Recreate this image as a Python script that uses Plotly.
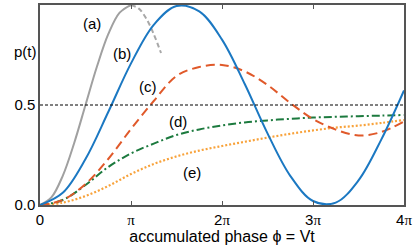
import plotly.graph_objects as go

# phase in units of pi
phi_a = [0, 0.125, 0.25, 0.375, 0.5, 0.625, 0.75, 0.875, 1.0]
p_a = [0, 0.038, 0.146, 0.309, 0.5, 0.691, 0.854, 0.962, 1.0]
phi_a2 = [1.0, 1.083, 1.167, 1.25, 1.33]
p_a2 = [1.0, 0.983, 0.933, 0.854, 0.76]

phi = [0, 0.25, 0.5, 0.75, 1.0, 1.25, 1.5, 1.75, 2.0, 2.25, 2.5, 2.75, 3.0, 3.25, 3.5, 3.75, 4.0]
p_b = [0, 0.061, 0.230, 0.465, 0.708, 0.901, 0.995, 0.968, 0.827, 0.605, 0.358, 0.146, 0.020, 0.012, 0.123, 0.327, 0.573]
p_c = [0, 0.025, 0.105, 0.23, 0.38, 0.52, 0.645, 0.69, 0.70, 0.668, 0.60, 0.51, 0.43, 0.377, 0.348, 0.365, 0.418]
p_d = [0, 0.025, 0.10, 0.19, 0.258, 0.307, 0.35, 0.378, 0.398, 0.413, 0.423, 0.431, 0.437, 0.441, 0.444, 0.447, 0.45]
p_e = [0, 0.012, 0.045, 0.095, 0.155, 0.205, 0.243, 0.272, 0.295, 0.316, 0.337, 0.356, 0.373, 0.387, 0.397, 0.41, 0.425]

labels = ["(a)", "(b)", "(c)", "(d)", "(e)"]
label_x = [0.57, 0.90, 1.19, 1.52, 1.67]
label_y = [0.906, 0.757, 0.591, 0.416, 0.161]

x_tickvals = [0, 1, 2, 3, 4]
x_ticktext = ["0", "<span style='font-family:Liberation Serif'>π</span>",
              "2<span style='font-family:Liberation Serif'>π</span>",
              "3<span style='font-family:Liberation Serif'>π</span>",
              "4<span style='font-family:Liberation Serif'>π</span>"]
y_tickvals = [0, 0.5, 1.0]
y_ticktext = ["0.0", "0.5", "1.0"]

FONT = "Liberation Sans, Arial, sans-serif"

fig = go.Figure()
fig.add_hline(y=0.5, line=dict(color="black", width=1, dash="3px,2px"))
fig.add_trace(go.Scatter(x=phi_a2, y=p_a2, mode="lines", line=dict(color="#a8a8a8", width=2, dash="5px,3px", shape="spline")))
fig.add_trace(go.Scatter(x=phi_a, y=p_a, mode="lines", line=dict(color="#a0a0a0", width=2, shape="spline")))
fig.add_trace(go.Scatter(x=phi, y=p_e, mode="lines", line=dict(color="#F8A23A", width=2.2, dash="2px,2px", shape="spline")))
fig.add_trace(go.Scatter(x=phi, y=p_d, mode="lines", line=dict(color="#1C7A3E", width=2, dash="8px,3px,2px,3px", shape="spline")))
fig.add_trace(go.Scatter(x=phi, y=p_c, mode="lines", line=dict(color="#E0592A", width=2, dash="9px,5px", shape="spline")))
fig.add_trace(go.Scatter(x=phi, y=p_b, mode="lines", line=dict(color="#1B78C2", width=2, shape="spline")))

for t, lx, ly in zip(labels, label_x, label_y):
    fig.add_annotation(x=lx, y=ly, text=t, showarrow=False, font=dict(family=FONT, size=15, color="black"))

fig.add_annotation(xref="paper", yref="y", x=-0.078, y=0.77, text="p(t)", showarrow=False,
                   font=dict(family=FONT, size=15, color="black"))

fig.update_layout(
    width=415, height=252,
    margin=dict(l=40, r=11, t=5, b=47, autoexpand=False),
    paper_bgcolor="white", plot_bgcolor="white",
    showlegend=False,
    font=dict(family=FONT, size=15, color="black"),
)
fig.update_xaxes(range=[0, 4], tickvals=x_tickvals, ticktext=x_ticktext, automargin=False,
                 ticks="inside", ticklen=4, tickcolor="#555", mirror="ticks",
                 showline=True, linecolor="#555", linewidth=1.5, showgrid=False, zeroline=False,
                 title=dict(text="accumulated phase ϕ = Vt", standoff=3, font=dict(family=FONT, size=16)),
                 tickfont=dict(family=FONT, size=15))
fig.update_yaxes(range=[0, 1.0], tickvals=y_tickvals, ticktext=y_ticktext, automargin=False,
                 ticks="", mirror=True, showline=True, linecolor="#555", linewidth=1.5,
                 showgrid=False, zeroline=False, tickfont=dict(family=FONT, size=15))

fig.write_html("out.html", config={"displayModeBar": False},
               post_script="document.body.style.margin='0px';document.body.style.padding='0px';")
